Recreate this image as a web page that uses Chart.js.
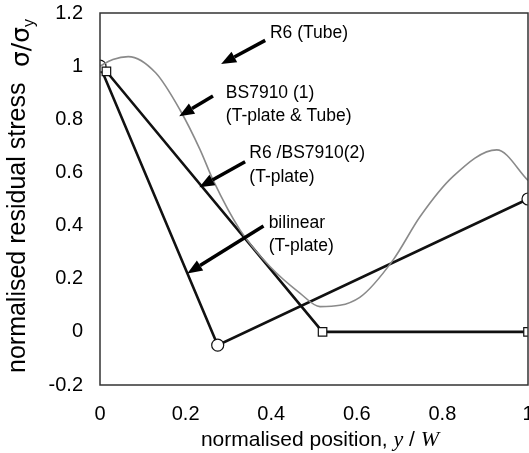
<!DOCTYPE html>
<html>
<head>
<meta charset="utf-8">
<script src="https://cdn.jsdelivr.net/npm/chart.js@4"></script>
<style>
  html, body { margin: 0; padding: 0; background: #fff; }
  #wrap { width: 529px; height: 453px; }
</style>
</head>
<body>
<div id="wrap"><canvas id="grafico"></canvas></div>
<script>
// values
const bilinearX = [0, 0.275, 1];
const bilinearY = [1, -0.05, 0.5];
const r6bsX = [0.015, 0.52, 1];
const r6bsY = [0.98, 0, 0];
const tubeX = [0, 0.03, 0.066, 0.13, 0.187, 0.234, 0.264, 0.327, 0.397, 0.467, 0.514, 0.607, 0.685, 0.748, 0.825, 0.927, 1];
const tubeY = [1, 1.025, 1.036, 0.975, 0.835, 0.685, 0.572, 0.384, 0.246, 0.146, 0.095, 0.13, 0.271, 0.434, 0.585, 0.685, 0.57];

const xTicks = [0, 0.2, 0.4, 0.6, 0.8, 1];
const yTicks = [-0.2, 0, 0.2, 0.4, 0.6, 0.8, 1, 1.2];

// annotations (data coordinates)
const noteText = [["R6 (Tube)"], ["BS7910 (1)", "(T-plate & Tube)"], ["R6 /BS7910(2)", "(T-plate)"], ["bilinear", "(T-plate)"]];
const noteX = [0.397, 0.294, 0.349, 0.394];
const noteY = [1.125, 0.90, 0.671, 0.41];
const arrowTail = [[0.386, 1.097], [0.264, 0.888], [0.339, 0.64], [0.382, 0.398]];
const arrowTip = [[0.283, 1.008], [0.185, 0.811], [0.232, 0.544], [0.204, 0.22]];

function pts(xs, ys) {
    return xs.map(function (x, i) { return { x: x, y: ys[i] }; });
}

function fmt(v) {
    return String(Math.round(v * 10) / 10);
}

const extras = {
    id: 'extras',
    afterDatasetsDraw: function (chart) {
        const ctx = chart.ctx;
        const sx = chart.scales.x, sy = chart.scales.y;
        const a = chart.chartArea;

        // frame
        ctx.save();
        ctx.strokeStyle = '#333';
        ctx.lineWidth = 1.5;
        ctx.strokeRect(a.left, a.top, a.right - a.left, a.bottom - a.top);
        ctx.restore();

        // arrows
        ctx.save();
        ctx.fillStyle = '#000';
        ctx.strokeStyle = '#000';
        for (let i = 0; i < arrowTail.length; i++) {
            const x1 = sx.getPixelForValue(arrowTail[i][0]), y1 = sy.getPixelForValue(arrowTail[i][1]);
            const x2 = sx.getPixelForValue(arrowTip[i][0]), y2 = sy.getPixelForValue(arrowTip[i][1]);
            const ang = Math.atan2(y2 - y1, x2 - x1);
            const hl = 15, hw = 6;
            const bx = x2 - hl * Math.cos(ang), by = y2 - hl * Math.sin(ang);
            ctx.lineWidth = 3.5;
            ctx.beginPath();
            ctx.moveTo(x1, y1);
            ctx.lineTo(bx, by);
            ctx.stroke();
            ctx.beginPath();
            ctx.moveTo(x2, y2);
            ctx.lineTo(bx + hw * Math.sin(ang), by - hw * Math.cos(ang));
            ctx.lineTo(bx - hw * Math.sin(ang), by + hw * Math.cos(ang));
            ctx.closePath();
            ctx.fill();
        }
        ctx.restore();

        // annotation text
        ctx.save();
        ctx.fillStyle = '#000';
        ctx.font = '17.5px "Liberation Sans", Arial, sans-serif';
        ctx.textBaseline = 'middle';
        ctx.textAlign = 'left';
        for (let i = 0; i < noteText.length; i++) {
            const x = sx.getPixelForValue(noteX[i]), y = sy.getPixelForValue(noteY[i]);
            noteText[i].forEach(function (line, j) {
                ctx.fillText(line, x, y + j * 23.5);
            });
        }
        ctx.restore();

        // x axis title with italic symbols
        ctx.save();
        ctx.fillStyle = '#000';
        ctx.textBaseline = 'alphabetic';
        const sans = '21px "Liberation Sans", Arial, sans-serif';
        const ital = 'italic 22px "Liberation Serif", "Times New Roman", serif';
        const parts = [['normalised position, ', sans], ['y', ital], [' / ', sans], ['W', ital]];
        let total = 0;
        parts.forEach(function (p) { ctx.font = p[1]; total += ctx.measureText(p[0]).width; });
        let cx = 320 - total / 2;
        parts.forEach(function (p) {
            ctx.font = p[1];
            ctx.fillText(p[0], cx, 446);
            cx += ctx.measureText(p[0]).width;
        });
        ctx.restore();

        // y axis title
        ctx.save();
        ctx.translate(25, 0);
        ctx.rotate(-Math.PI / 2);
        ctx.fillStyle = '#000';
        ctx.textBaseline = 'alphabetic';
        ctx.font = '25px "Liberation Sans", Arial, sans-serif';
        ctx.textAlign = 'left';
        ctx.fillText('normalised residual stress', -373, 0);
        ctx.font = '25px "DejaVu Sans", sans-serif';
        let px = -67;
        ctx.fillText('\u03c3/\u03c3', px, 4);
        px += ctx.measureText('\u03c3/\u03c3').width;
        ctx.font = '16px "Liberation Sans", Arial, sans-serif';
        ctx.fillText('y', px, 9);
        ctx.restore();
    }
};

document.addEventListener("DOMContentLoaded", function () {
    const ctx = document.getElementById("grafico").getContext("2d");

    new Chart(ctx, {
        type: 'line',
        data: {
            datasets: [{
                label: 'R6 (Tube)',
                data: pts(tubeX, tubeY),
                borderColor: '#8a8a8a',
                borderWidth: 1.6,
                pointRadius: 0,
                cubicInterpolationMode: 'monotone',
                fill: false
            }, {
                label: 'R6 /BS7910(2)',
                data: pts(r6bsX, r6bsY),
                borderColor: '#111',
                borderWidth: 2.6,
                tension: 0,
                pointStyle: 'rect',
                pointRadius: 6,
                pointBorderWidth: 1.2,
                pointBackgroundColor: '#fff',
                pointBorderColor: '#111'
            }, {
                label: 'bilinear',
                data: pts(bilinearX, bilinearY),
                borderColor: '#111',
                borderWidth: 2.6,
                tension: 0,
                pointStyle: 'circle',
                pointRadius: 6,
                pointBorderWidth: 1.2,
                pointBackgroundColor: '#fff',
                pointBorderColor: '#111'
            }]
        },
        options: {
            responsive: true,
            maintainAspectRatio: false,
            animation: false,
            layout: { autoPadding: false, padding: { top: 13, right: 1, left: 0, bottom: 0 } },
            plugins: {
                legend: { display: false },
                tooltip: { enabled: false }
            },
            scales: {
                x: {
                    type: 'linear',
                    min: 0, max: 1,
                    afterBuildTicks: function (s) { s.ticks = xTicks.map(function (v) { return { value: v }; }); },
                    afterFit: function (s) { s.height = 68; s.paddingLeft = 0; s.paddingRight = 0; },
                    grid: { display: false, drawTicks: false },
                    border: { display: false },
                    ticks: {
                        padding: 17,
                        color: '#000',
                        font: { family: '"Liberation Sans", Arial, sans-serif', size: 20 },
                        callback: fmt,
                        maxRotation: 0
                    }
                },
                y: {
                    type: 'linear',
                    min: -0.2, max: 1.2,
                    afterBuildTicks: function (s) { s.ticks = yTicks.map(function (v) { return { value: v }; }); },
                    afterFit: function (s) { s.width = 100; s.paddingTop = 0; s.paddingBottom = 0; },
                    grid: { display: false, drawTicks: false },
                    border: { display: false },
                    ticks: {
                        padding: 17,
                        color: '#000',
                        font: { family: '"Liberation Sans", Arial, sans-serif', size: 20 },
                        callback: fmt
                    }
                }
            }
        },
        plugins: [extras]
    });
});
</script>
</body>
</html>
